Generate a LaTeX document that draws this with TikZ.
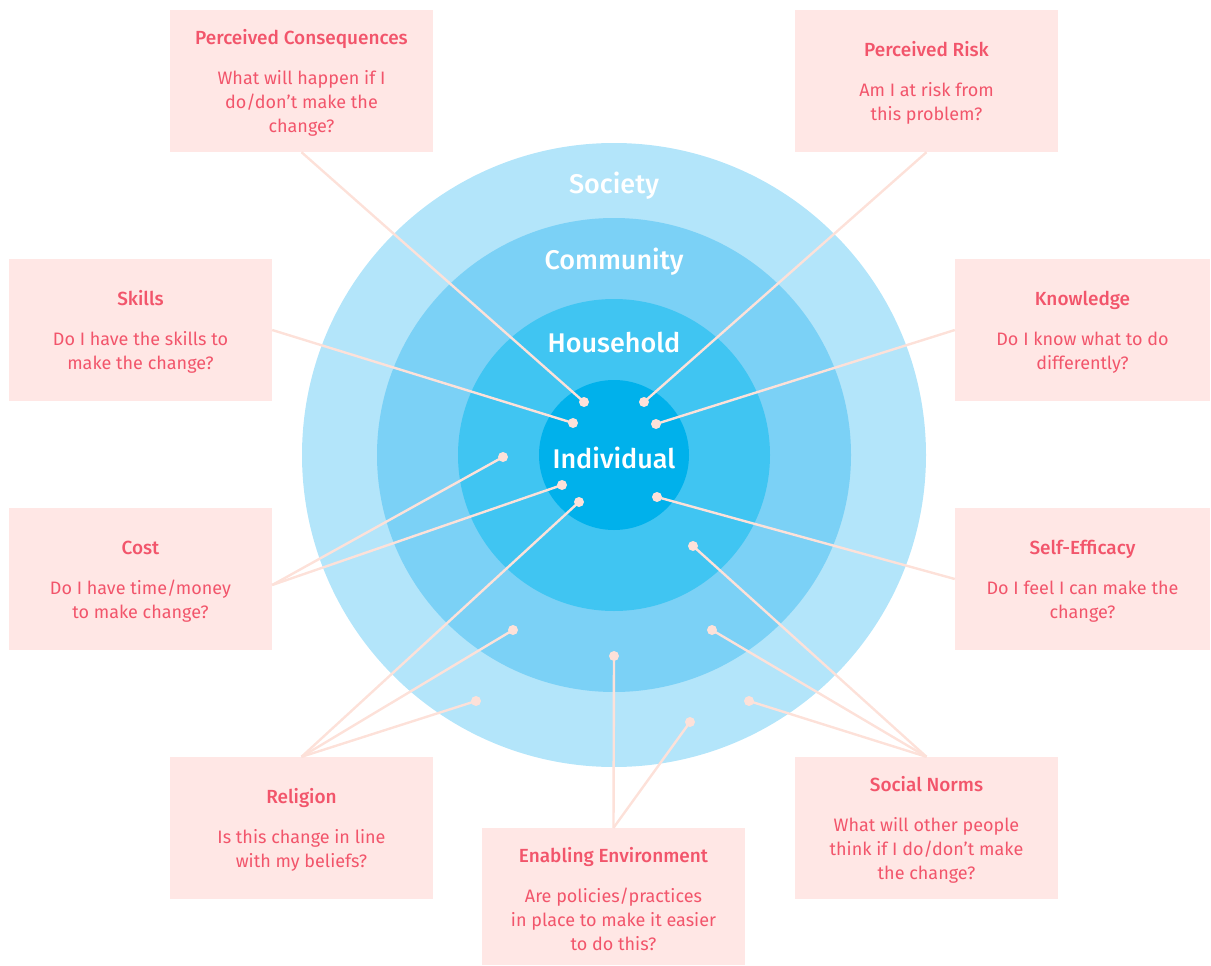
\documentclass[tikz,border=0pt]{standalone}
\usepackage{fontspec}
\setmainfont{Fira Sans}[BoldFont={Fira Sans Medium}]
\usepackage{xcolor}
\usepackage{tikz}
\usetikzlibrary{positioning}
\definecolor{society}{HTML}{B3E5FA}
\definecolor{community}{HTML}{7BD1F6}
\definecolor{household}{HTML}{40C5F2}
\definecolor{individual}{HTML}{00B1EB}
\definecolor{boxfill}{HTML}{FFE7E5}
\definecolor{boxtext}{HTML}{F2556B}
\definecolor{linkcol}{HTML}{FDE1D9}
\newcommand{\ttl}[1]{{\fontsize{19}{24}\selectfont\bfseries\rule{0pt}{19.5pt}#1}\\[16pt]}

\begin{document}
\begin{tikzpicture}[x=1pt, y=-1pt,
    every node/.style={font=\fontsize{18}{24}\selectfont},
    ring/.style={circle, inner sep=0pt, minimum size=#1},
    rlabel/.style={white, font=\fontsize{27}{30}\selectfont\bfseries},
    factor/.style={fill=boxfill, text=boxtext, align=center, inner sep=0pt,
        minimum width=263pt, minimum height=142pt},
    link/.style={linkcol, line width=2.4pt},
    dot/.style={circle, fill=linkcol, inner sep=0pt, minimum size=10pt}]

    \useasboundingbox (0,0) rectangle (1211,966);

    % Rings, outside in
    \node[ring=624pt, fill=society] (soc) at (614,455) {};
    \node[ring=474pt, fill=community] (com) at (614,455) {};
    \node[ring=312pt, fill=household] (hou) at (614,455) {};
    \node[ring=150pt, fill=individual] (ind) at (614,455) {};

    \node[rlabel] at (614,186) {Society};
    \node[rlabel] at (614,262) {Community};
    \node[rlabel] at (614,343) {Household};
    \node[rlabel] at (614,458) {Individual};

    % Factor boxes
    \node[factor] (cons) at (301.5,81) {\ttl{Perceived Consequences}What will happen if I\\do/don't make the\\change?};
    \node[factor] (risk) at (926.5,81) {\ttl{Perceived Risk}Am I at risk from\\this problem?};
    \node[factor] (skil) at (140.5,330) {\ttl{Skills}Do I have the skills to\\make the change?};
    \node[factor, minimum width=255pt] (know) at (1082.5,330) {\ttl{Knowledge}Do I know what to do\\differently?};
    \node[factor] (cost) at (140.5,579) {\ttl{Cost}Do I have time/money\\to make change?};
    \node[factor, minimum width=255pt] (self) at (1082.5,579) {\ttl{Self-Efficacy}Do I feel I can make the\\change?};
    \node[factor] (reli) at (301.5,828) {\ttl{Religion}Is this change in line\\with my beliefs?};
    \node[factor] (norm) at (926.5,828) {\ttl{Social Norms}What will other people\\think if I do/don't make\\the change?};
    \node[factor, minimum height=137pt] (enab) at (613.5,896.5) {\ttl{Enabling Environment}Are policies/practices\\in place to make it easier\\to do this?};

    % Anchor dots inside the rings
    \node[dot] (dcons) at (584,402) {};
    \node[dot] (drisk) at (644,402) {};
    \node[dot] (dskil) at (573,423) {};
    \node[dot] (dknow) at (656,424) {};
    \node[dot] (dcostA) at (503,457) {};
    \node[dot] (dcostB) at (562,485) {};
    \node[dot] (dself) at (657,497) {};
    \node[dot] (dreliA) at (579,502) {};
    \node[dot] (dreliB) at (513,630) {};
    \node[dot] (dreliC) at (476,701) {};
    \node[dot] (dnormA) at (693,546) {};
    \node[dot] (dnormB) at (712,630) {};
    \node[dot] (dnormC) at (749,701) {};
    \node[dot] (denabA) at (614,656) {};
    \node[dot] (denabB) at (690,722) {};

    % Links
    \coordinate (cost-e) at ([yshift=-6pt]cost.east);
    \draw[link] (cons.south) -- (dcons.center);
    \draw[link] (risk.south) -- (drisk.center);
    \draw[link] (skil.east) -- (dskil.center);
    \draw[link] (know.west) -- (dknow.center);
    \draw[link] (cost-e) -- (dcostA.center);
    \draw[link] (cost-e) -- (dcostB.center);
    \draw[link] (self.west) -- (dself.center);
    \draw[link] (reli.north) -- (dreliA.center);
    \draw[link] (reli.north) -- (dreliB.center);
    \draw[link] (reli.north) -- (dreliC.center);
    \draw[link] (norm.north) -- (dnormA.center);
    \draw[link] (norm.north) -- (dnormB.center);
    \draw[link] (norm.north) -- (dnormC.center);
    \draw[link] (enab.north) -- (denabA.center);
    \draw[link] (enab.north) -- (denabB.center);

\end{tikzpicture}
\end{document}
